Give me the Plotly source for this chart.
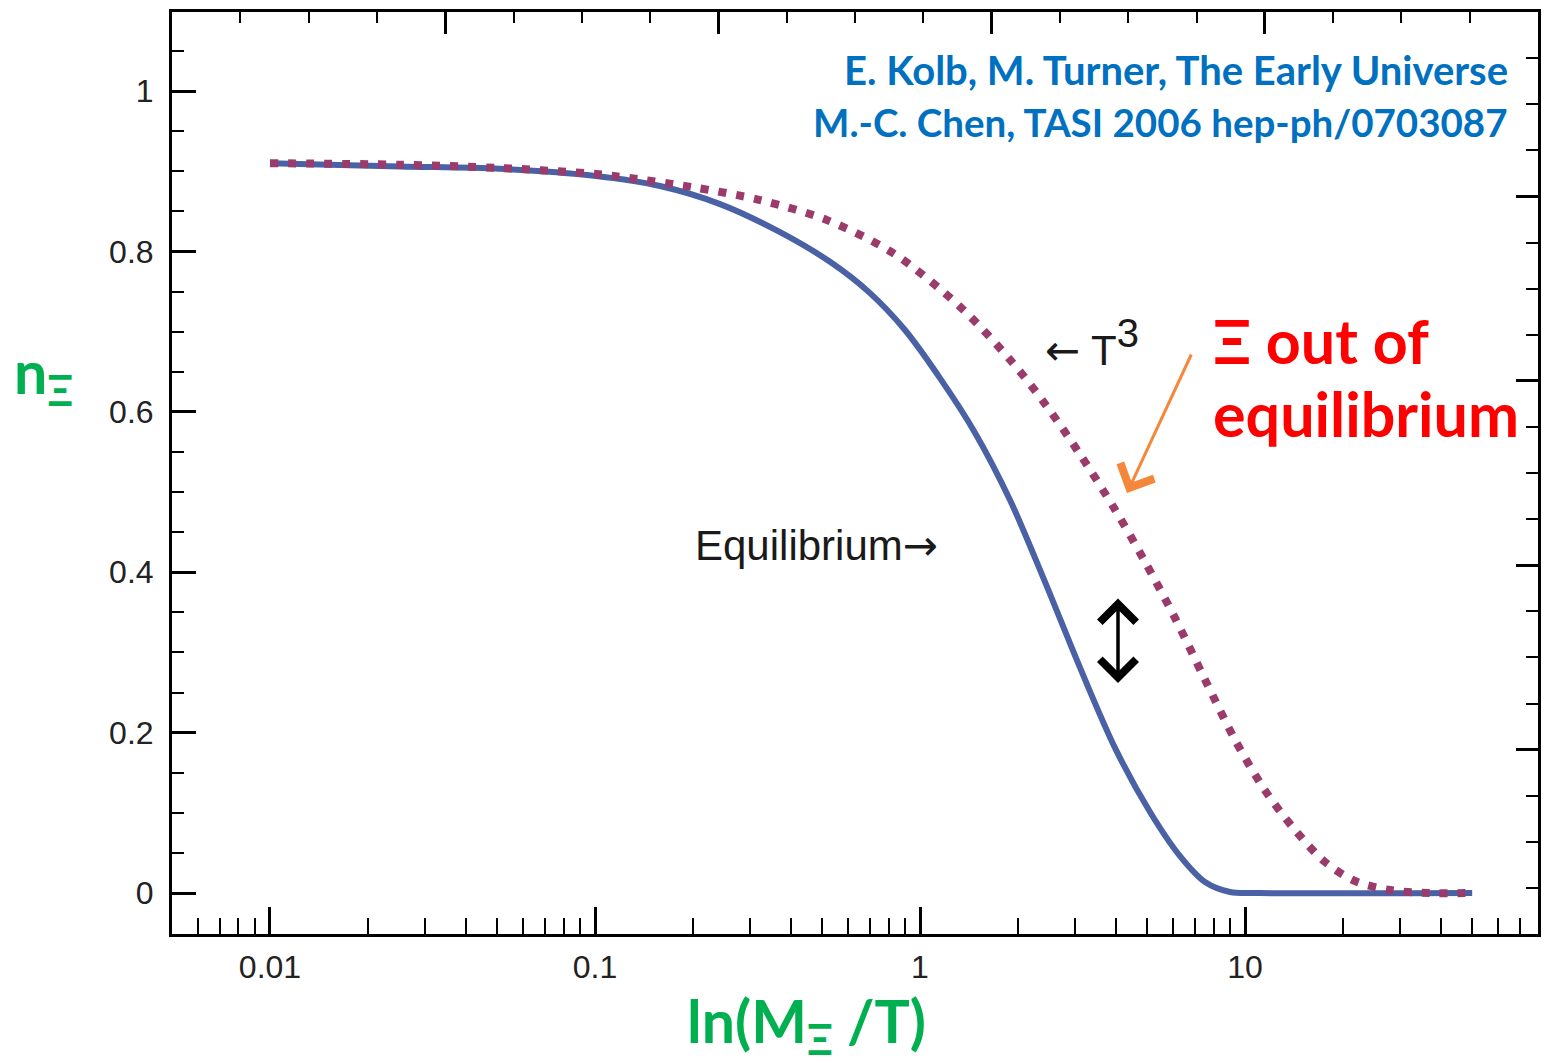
import plotly.graph_objects as go

# Equilibrium abundance (solid) versus M/T
x_eq = [0.01, 0.0251, 0.051, 0.1007, 0.1585, 0.2425, 0.371, 0.5287, 0.7018, 0.899,
        1.152, 1.476, 1.892, 2.424, 3.107, 3.981, 5.102, 6.310, 7.534, 8.993,
        11.12, 50]
n_eq = [0.910, 0.906, 0.903, 0.894, 0.8815, 0.859, 0.824, 0.787, 0.748, 0.702,
        0.642, 0.574, 0.490, 0.388, 0.281, 0.181, 0.101, 0.046, 0.0137, 0.0012,
        0.0, 0.0]

# Out-of-equilibrium (T^3 tracking) abundance, dotted
x_t3 = [0.01, 0.0251, 0.051, 0.1007, 0.1255, 0.2002, 0.3219, 0.5175, 0.8258, 1.328,
        1.892, 2.424, 3.107, 3.981, 4.924, 6.088, 7.534, 9.316, 11.52, 14.25,
        17.63, 21.81, 27.94, 37.09, 50]
n_t3 = [0.910, 0.908, 0.904, 0.8965, 0.892, 0.880, 0.864, 0.839, 0.798, 0.731,
        0.665, 0.610, 0.547, 0.478, 0.413, 0.343, 0.266, 0.191, 0.128, 0.0786,
        0.0387, 0.015, 0.0037, 0.0, 0.0]

x_ticks = [0.01, 0.1, 1, 10]
x_ticktext = ["0.01", "0.1", "1", "10"]
x_minor = [k * 10.0 ** e for e in (-3, -2, -1, 0, 1) for k in range(2, 10)]
x_minor = [v for v in x_minor if 0.0055 < v < 75]

y_ticks = [0, 0.2, 0.4, 0.6, 0.8, 1]
y_ticktext = ["0", "0.2", "0.4", "0.6", "0.8", "1"]
y_minor = [0.05 * i for i in range(0, 22)]

# frame ticks on the top and right edges
frame_major = [0, 4, 8, 12, 16, 20]
frame_minor = list(range(0, 21))

W, H = 1544, 1063
L, R, T, B = 172, 6, 12, 129
PW, PH = W - L - R, H - T - B


def px(xp):
    return (xp - L) / PW


def py(yp):
    return (H - B - yp) / PH


fig = go.Figure()
fig.add_trace(go.Scatter(
    x=x_eq, y=n_eq, mode="lines",
    line=dict(color="#4a62a5", width=6, shape="spline", smoothing=0.9),
    hoverinfo="skip", showlegend=False))
fig.add_trace(go.Scatter(
    x=x_t3, y=n_t3, mode="lines",
    line=dict(color="#9a3b6c", width=8, dash="8px,10px", shape="spline", smoothing=0.9),
    hoverinfo="skip", showlegend=False))
# empty traces so the top and right frame axes are laid out
fig.add_trace(go.Scatter(x=[], y=[], xaxis="x2", yaxis="y", showlegend=False, hoverinfo="skip"))
fig.add_trace(go.Scatter(x=[], y=[], xaxis="x", yaxis="y2", showlegend=False, hoverinfo="skip"))

tick_font = dict(family="Liberation Sans, Arial, sans-serif", size=32, color="#222222")

fig.update_layout(
    width=W, height=H,
    margin=dict(l=L, r=R, t=T, b=B),
    paper_bgcolor="white", plot_bgcolor="white",
    showlegend=False,
    xaxis=dict(
        type="log", range=[-2.3015, 1.9015],
        showgrid=False, zeroline=False,
        showline=True, linecolor="black", linewidth=3, mirror=False,
        ticks="inside", ticklen=27, tickwidth=3, tickcolor="black",
        tickmode="array", tickvals=x_ticks, ticktext=x_ticktext,
        tickfont=tick_font, ticklabelstandoff=3,
        minor=dict(tickmode="array", tickvals=x_minor, ticks="inside",
                   ticklen=16, tickwidth=2, tickcolor="black", showgrid=False),
    ),
    yaxis=dict(
        range=[-0.0511, 1.0985],
        showgrid=False, zeroline=False,
        showline=True, linecolor="black", linewidth=3, mirror=False,
        ticks="inside", ticklen=24, tickwidth=3, tickcolor="black",
        tickmode="array", tickvals=y_ticks, ticktext=y_ticktext,
        tickfont=tick_font, ticklabelstandoff=9,
        minor=dict(tickmode="array", tickvals=y_minor, ticks="inside",
                   ticklen=12, tickwidth=2, tickcolor="black", showgrid=False),
    ),
    xaxis2=dict(
        overlaying="x", side="top", anchor="y", range=[0, 20],
        showgrid=False, zeroline=False, showticklabels=False,
        showline=True, linecolor="black", linewidth=3,
        ticks="inside", ticklen=22, tickwidth=3, tickcolor="black",
        tickmode="array", tickvals=frame_major,
        minor=dict(tickmode="array", tickvals=frame_minor, ticks="inside",
                   ticklen=11, tickwidth=2, tickcolor="black", showgrid=False),
    ),
    yaxis2=dict(
        overlaying="y", side="right", anchor="x", range=[0, 20],
        showgrid=False, zeroline=False, showticklabels=False,
        showline=True, linecolor="black", linewidth=3,
        ticks="inside", ticklen=22, tickwidth=3, tickcolor="black",
        tickmode="array", tickvals=frame_major,
        minor=dict(tickmode="array", tickvals=frame_minor, ticks="inside",
                   ticklen=12, tickwidth=2, tickcolor="black", showgrid=False),
    ),
)

blue_font = dict(family="Lato, Open Sans, sans-serif", size=40, color="#0070c0")
blue_font2 = dict(family="Lato, Open Sans, sans-serif", size=38.5, color="#0070c0")
red_font = dict(family="Lato, Open Sans, sans-serif", size=61, color="#ff0000")
green_font = dict(family="Lato, Open Sans, sans-serif", size=59, color="#00b050")
plot_font = dict(family="Liberation Sans, Arial, sans-serif", size=42, color="#1a1a1a")
ARROW = '<span style="font-family:DejaVu Sans">{}</span>'

ann = [
    dict(text="<b>E. Kolb, M. Turner, The Early Universe</b>", x=px(1510), y=py(70),
         xanchor="right", yanchor="middle", font=blue_font),
    dict(text="<b>M.-C. Chen, TASI 2006 hep-ph/0703087</b>", x=px(1510), y=py(122),
         xanchor="right", yanchor="middle", font=blue_font2),
    dict(text="<b>Ξ out of</b>", x=px(1211), y=py(340),
         xanchor="left", yanchor="middle", font=red_font),
    dict(text="<b>equilibrium</b>", x=px(1211), y=py(413),
         xanchor="left", yanchor="middle", font=red_font),
    dict(text=ARROW.format("←") + " T<sup><span style=\"font-size:40px\">3</span></sup>",
         x=px(1043), y=py(343), xanchor="left", yanchor="middle", font=plot_font),
    dict(text="Equilibrium" + ARROW.format("→"), x=px(693), y=py(545),
         xanchor="left", yanchor="middle", font=plot_font),
    dict(text="<b>n<sub>Ξ</sub></b>", x=px(12), y=py(375),
         xanchor="left", yanchor="middle", font=green_font),
    dict(text="<b>ln(M<sub>Ξ</sub> /T)</b>", x=px(806), y=py(1024),
         xanchor="center", yanchor="middle", font=green_font),
]
for a in ann:
    fig.add_annotation(xref="paper", yref="paper", showarrow=False, **a)

# orange pointer to the dotted curve
fig.add_annotation(xref="paper", yref="paper", x=px(1127), y=py(493),
                   ax=65, ay=-140, text="", showarrow=True,
                   arrowcolor="#f5873a", arrowwidth=3, arrowhead=4, arrowsize=2.4)
# double arrow marking the gap between the curves
fig.add_annotation(xref="paper", yref="paper", x=px(1118), y=py(683),
                   ax=0, ay=-86, text="", showarrow=True, arrowside="end+start",
                   arrowcolor="black", arrowwidth=3.5, arrowhead=4, startarrowhead=4,
                   arrowsize=2.0, startarrowsize=2.0)

fig.write_html("out.html")
